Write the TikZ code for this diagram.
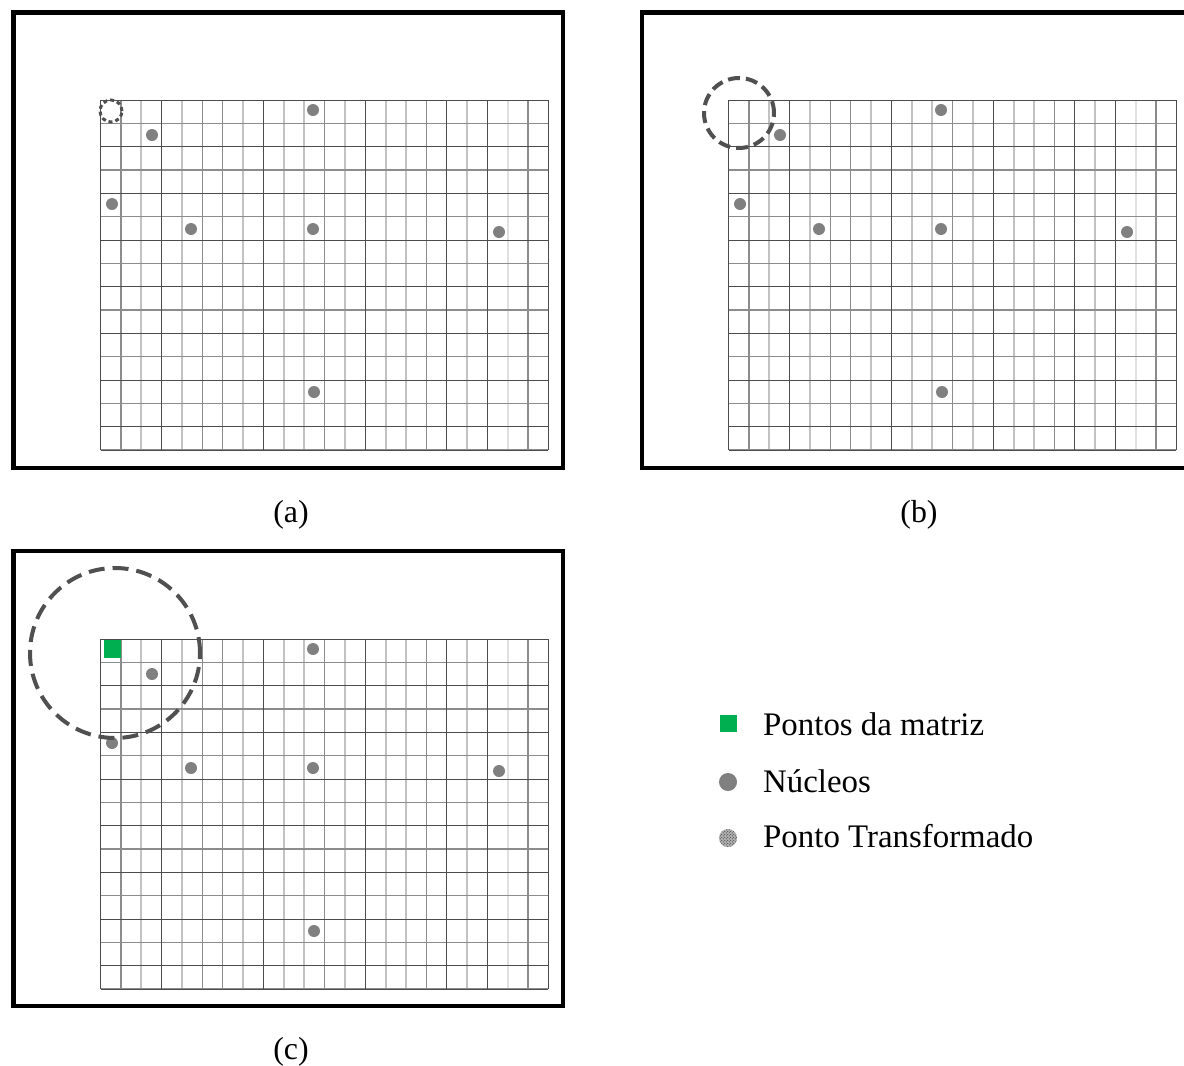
\documentclass[tikz,border=0pt]{standalone}
\usepackage{fontspec}
\setmainfont{Liberation Serif}
\usetikzlibrary{patterns}
\definecolor{nuc}{HTML}{808080}
\definecolor{ring}{HTML}{505050}
\definecolor{mgreen}{HTML}{00B050}
\tikzset{
 dk/.style={draw=black!70, line width=1bp},
 md/.style={draw=black!45, line width=1.6bp},
 lt/.style={draw=black!24, line width=2bp},
 vl/.style={draw=black!12, line width=2bp},
 framebox/.style={draw=black, line width=4.5bp},
 nucleus/.style={circle, fill=nuc, inner sep=0pt, minimum size=12bp},
 ringline/.style={circle, draw=ring, line width=4bp, dash pattern=on 12bp off 6bp, inner sep=0pt},
 lbl/.style={font=\fontsize{32}{36}\selectfont, inner sep=0pt},
 lgd/.style={font=\fontsize{33}{38}\selectfont, inner sep=0pt},
}
\newcommand\gridpanel[3]{%
 \begin{scope}[shift={(#1,#2)}]
  \foreach \i/\s in {1/md,2/lt,4/lt,5/md,6/md,7/lt,9/lt,10/lt,11/md,12/lt,14/lt,15/lt,16/md,18/lt,20/vl,21/md}
    \draw[\s] (\i*20.364,0) -- (\i*20.364,350);
  \foreach \j in {1,3,...,15}
    \draw[md] (0,\j*23.333) -- (447.9,\j*23.333);
  \foreach \i in {0,3,8,13,17,19,22}
    \draw[dk] (\i*20.364,0) -- (\i*20.364,350);
  \foreach \j in {0,2,...,14}
    \draw[dk] (0,\j*23.333) -- (447.9,\j*23.333);
  \draw[dk] (0,350) -- (447.9,350);
  \node[nucleus] (#3n1) at (212.5,10) {};
  \node[nucleus] (#3n2) at (51.5,35) {};
  \node[nucleus] (#3n3) at (11.5,104) {};
  \node[nucleus] (#3n4) at (90.5,129) {};
  \node[nucleus] (#3n5) at (212.5,129) {};
  \node[nucleus] (#3n6) at (398.5,132) {};
  \node[nucleus] (#3n7) at (213.5,292) {};
 \end{scope}}
\begin{document}
\begin{tikzpicture}[x=1bp,y=-1bp]
\path[clip] (0,0) rectangle (1184,1066);
\fill[white] (0,0) rectangle (1184,1066);
% frames
\draw[framebox] (13.5,12.5) rectangle (563,468);
\draw[framebox] (642,12.5) rectangle (1200,468);
\draw[framebox] (13.5,551) rectangle (563,1006);
% grids
\gridpanel{100.5}{100}{a}
\gridpanel{728.5}{100}{b}
\gridpanel{100.5}{639}{c}
% markers
\node[circle, draw=ring, line width=3bp, dash pattern=on 4bp off 3bp, minimum size=22bp, inner sep=0pt] (ra) at (111,111) {};
\node[ringline, minimum size=70bp] (rb) at (739,113) {};
\node[fill=mgreen, minimum width=17bp, minimum height=18bp, inner sep=0pt] (sq) at (112,648.5) {};
\node[ringline, minimum size=170bp, dash pattern=on 16bp off 8bp] (rc) at (115,653) {};
% panel labels
\node[lbl, anchor=base] (la) at (291,522) {(a)};
\node[lbl, anchor=base] (lb) at (919,522) {(b)};
\node[lbl, anchor=base] (lc) at (291,1059) {(c)};
% legend
\node[fill=mgreen, minimum size=17bp, inner sep=0pt] (k1) at (728.5,723) {};
\node[lgd, anchor=base west] (t1) at (763,735) {Pontos da matriz};
\node[circle, fill=nuc, minimum size=18bp, inner sep=0pt] (k2) at (728,782) {};
\node[lgd, anchor=base west] (t2) at (763,792) {Núcleos};
\node[circle, fill=gray!60, minimum size=18bp, inner sep=0pt] (k3) at (728,838) {};
\node[circle, pattern=crosshatch dots, pattern color=black!85, minimum size=18bp, inner sep=0pt] (k3p) at (728,838) {};
\node[lgd, anchor=base west] (t3) at (763,847) {Ponto Transformado};
\end{tikzpicture}
\end{document}
